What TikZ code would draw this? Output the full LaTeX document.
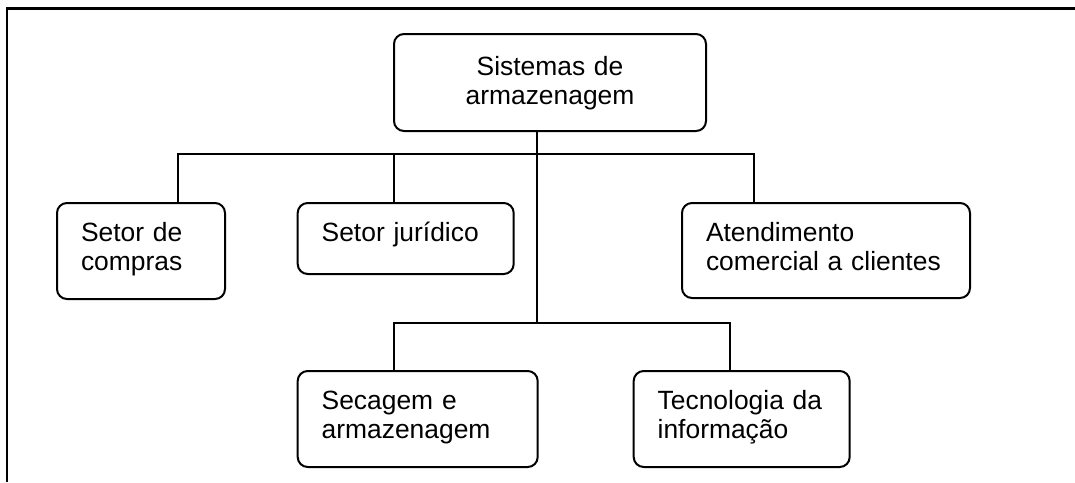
\documentclass[tikz,border=0pt]{standalone}
\usepackage{fontspec}
\setmainfont{Liberation Sans}
\usetikzlibrary{positioning}

\begin{document}
\begin{tikzpicture}
    [
        x=1pt, y=-1pt,
        roundbox/.style={rectangle, draw=black, rounded corners=10pt, line width=2pt, align=left, inner xsep=24pt, inner ysep=0pt, text height=38pt, font=\fontsize{26.4}{29}\selectfont},
        linkline/.style={draw=black, line width=2pt},
    ]

    \useasboundingbox (0,0) rectangle (1075,482);

    %% FRAME
    \draw[line width=2.5pt] (7,482) -- (7,8.5) -- (1075,8.5);

    %% TOP BOX
    \node[roundbox, align=center, text width=264pt, text height=41pt, text depth=56pt, anchor=north west] (sistemas) at(393,33) {Sistemas de\\armazenagem};

    %% FIRST ROW
    \node[roundbox, text width=120pt, text depth=58pt, anchor=north west] (compras) at(56,202) {Setor de\\compras};
    \node[roundbox, text width=168pt, text depth=33pt, anchor=north west] (juridico) at(296.7,202) {Setor jurídico};
    \node[roundbox, text width=240pt, text depth=57pt, anchor=north west] (atendimento) at(681,202) {Atendimento\\comercial a clientes};

    %% SECOND ROW
    \node[roundbox, text width=192pt, text depth=58pt, anchor=north west] (secagem) at(296.7,370) {Secagem e\\armazenagem};
    \node[roundbox, text width=168pt, text depth=58pt] (tecnologia) [right=94pt of secagem] {Tecnologia da\\informação};

    %% LINKS
    \coordinate (hubtop) at(536.7,154);
    \coordinate (hubbottom) at(536.7,322.7);
    \draw[linkline] (sistemas.south -| hubtop) -- (hubbottom);
    \draw[linkline] ([xshift=36.7pt]compras.north) |- (hubtop);
    \draw[linkline] ([xshift=-12pt]juridico.north) |- (hubtop);
    \draw[linkline] ([xshift=-72pt]atendimento.north) |- (hubtop);
    \draw[linkline] ([xshift=-24pt]secagem.north) |- (hubbottom);
    \draw[linkline] ([xshift=-11.5pt]tecnologia.north) |- (hubbottom);

\end{tikzpicture}
\end{document}
